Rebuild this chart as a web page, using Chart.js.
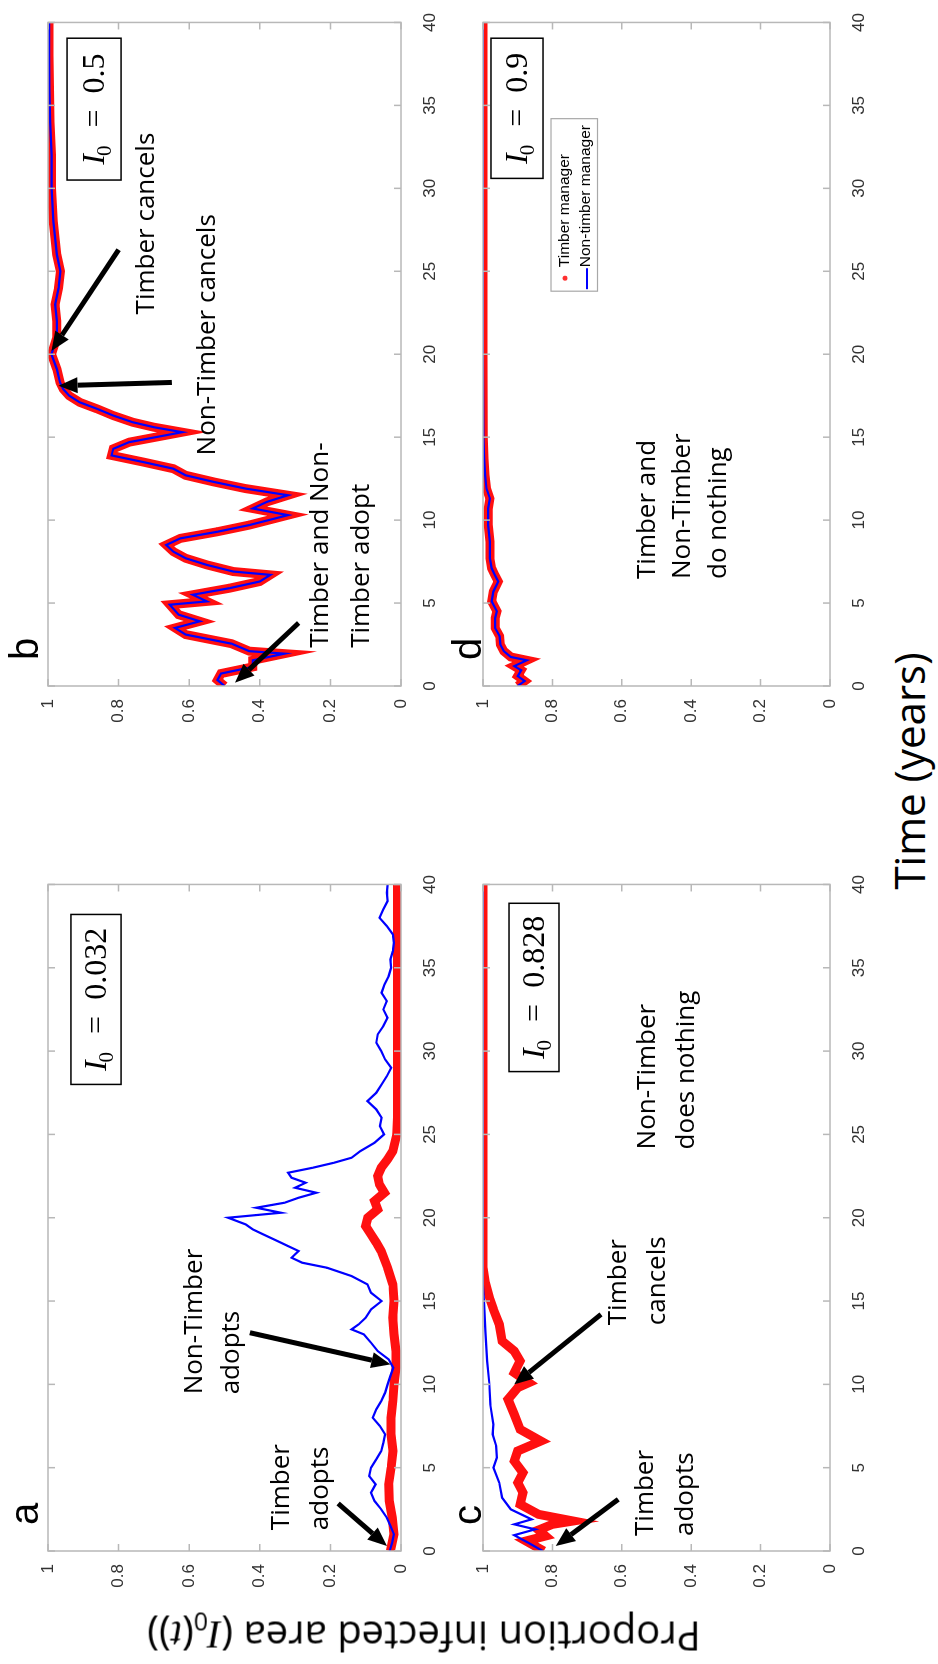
<!DOCTYPE html>
<html>
<head>
<meta charset="utf-8">
<script src="https://cdn.jsdelivr.net/npm/chart.js@4.4.0/dist/chart.umd.min.js"></script>
<style>
  html, body { margin: 0; padding: 0; background: #fff; }
  body { width: 938px; height: 1664px; overflow: hidden; position: relative; }
  /* the figure is laid out landscape, then turned a quarter turn counter-clockwise */
  #figure { position: absolute; left: 0; top: 0; width: 1664px; height: 938px;
            transform-origin: 0 0; transform: translateY(1664px) rotate(-90deg); }
  #figure canvas { position: absolute; }
  .title { position: absolute; font-family: "Open Sans", sans-serif; color: #000; white-space: nowrap; }
  .m { font-family: "Liberation Serif", serif; font-style: italic; }
  #ylab { left: 29px; top: 424px; font-size: 40px; transform: translate(-50%, -50%) rotate(-90deg); }
  #xlab { left: 893px; top: 908px; font-size: 42px; transform: translate(-50%, -50%); }
</style>
</head>
<body>
<div id="figure">
  <canvas id="chart-a" width="750" height="446" style="left:50px; top:0px;"></canvas>
  <canvas id="chart-b" width="747" height="446" style="left:915px; top:0px;"></canvas>
  <canvas id="chart-c" width="750" height="430" style="left:50px; top:446px;"></canvas>
  <canvas id="chart-d" width="747" height="430" style="left:915px; top:446px;"></canvas>
  <div class="title" id="ylab">Proportion infected area (<span class="m">I</span><sub style="font-size:25px">0</sub>(<span class="m">t</span>))</div>
  <div class="title" id="xlab">Time (years)</div>
</div>
<script>
// ========== DATA ========== //
const timeTicks = [0, 5, 10, 15, 20, 25, 30, 35, 40];
const valueTicks = [0, 0.2, 0.4, 0.6, 0.8, 1];

// panel a, I0 = 0.032
const aNonTimberTime = [0, 0.5, 1, 1.5, 2, 2.5, 3, 3.5, 4, 4.5, 5, 5.5, 6, 6.5, 7, 7.5, 8, 8.5, 9, 9.5, 10, 10.5, 11, 11.5, 12, 12.5, 13, 13.3, 13.6, 14, 14.5, 15, 15.5, 16, 16.5, 17, 17.3, 17.6, 18, 18.3, 18.6, 19, 19.3, 19.6, 20, 20.3, 20.6, 20.9, 21.2, 21.5, 21.8, 22.1, 22.4, 22.7, 23, 23.3, 23.6, 24, 24.5, 25, 25.5, 26, 26.5, 27, 27.5, 28, 28.5, 29, 29.5, 30, 30.5, 31, 31.5, 32, 32.5, 33, 33.5, 34, 34.5, 35, 35.5, 36, 36.5, 37, 37.5, 38, 38.5, 39, 39.5, 40];
const aNonTimber = [0.032, 0.025, 0.02, 0.03, 0.04, 0.056, 0.075, 0.085, 0.072, 0.09, 0.085, 0.07, 0.056, 0.05, 0.045, 0.06, 0.08, 0.07, 0.056, 0.045, 0.038, 0.03, 0.022, 0.035, 0.066, 0.085, 0.105, 0.14, 0.12, 0.1, 0.085, 0.055, 0.085, 0.095, 0.14, 0.21, 0.28, 0.31, 0.29, 0.32, 0.35, 0.39, 0.42, 0.44, 0.49, 0.34, 0.41, 0.33, 0.29, 0.24, 0.3, 0.27, 0.31, 0.32, 0.25, 0.19, 0.14, 0.115, 0.075, 0.048, 0.06, 0.055, 0.07, 0.095, 0.07, 0.055, 0.04, 0.028, 0.045, 0.056, 0.07, 0.066, 0.05, 0.038, 0.05, 0.04, 0.055, 0.047, 0.035, 0.028, 0.03, 0.023, 0.02, 0.023, 0.04, 0.061, 0.05, 0.038, 0.04, 0.038];
const aTimberTime = [0, 1, 2, 3, 4, 5, 6, 7, 8, 9, 10, 11, 12, 13, 14, 15, 16, 17, 18, 18.5, 19, 19.5, 20, 20.5, 21, 21.5, 22, 22.5, 23, 23.5, 24, 25, 26, 28, 30, 32, 34, 36, 38, 40];
const aTimber = [0.03, 0.02, 0.025, 0.033, 0.035, 0.028, 0.023, 0.028, 0.028, 0.023, 0.02, 0.014, 0.014, 0.02, 0.023, 0.02, 0.023, 0.038, 0.056, 0.07, 0.085, 0.1, 0.094, 0.066, 0.075, 0.047, 0.061, 0.066, 0.056, 0.038, 0.023, 0.012, 0.01, 0.01, 0.01, 0.01, 0.01, 0.01, 0.01, 0.01];

// panel b, I0 = 0.5 (both managers follow the same path)
const bTime = [0, 0.36, 0.75, 1.15, 1.55, 1.95, 2.1, 2.55, 3.1, 3.5, 3.9, 4.3, 4.9, 5.1, 5.5, 5.9, 6.3, 6.7, 6.9, 7.3, 7.7, 8.1, 8.5, 8.9, 9.3, 9.7, 10.3, 10.7, 11.1, 11.5, 11.9, 12.3, 12.7, 13.1, 13.5, 13.9, 14.3, 14.7, 14.9, 15.3, 15.6, 15.9, 16.3, 16.7, 17.1, 17.5, 17.9, 18.3, 19.1, 20, 21, 22, 23, 24, 25, 26, 27, 28, 30, 32, 34, 36, 38, 40];
const bValue = [0.5, 0.52, 0.51, 0.42, 0.42, 0.33, 0.43, 0.48, 0.61, 0.64, 0.57, 0.63, 0.655, 0.55, 0.59, 0.485, 0.4, 0.37, 0.475, 0.55, 0.61, 0.645, 0.665, 0.625, 0.52, 0.43, 0.32, 0.42, 0.38, 0.32, 0.44, 0.53, 0.61, 0.645, 0.73, 0.82, 0.815, 0.77, 0.72, 0.62, 0.7, 0.76, 0.815, 0.86, 0.91, 0.94, 0.957, 0.966, 0.975, 0.99, 0.975, 0.975, 0.98, 0.97, 0.965, 0.975, 0.98, 0.985, 0.99, 0.99, 0.994, 0.996, 0.997, 0.997];

// panel c, I0 = 0.828
const cNonTimberTime = [0, 0.5, 0.95, 1.3, 1.6, 1.9, 2.5, 3.2, 4.1, 5, 5.6, 6.3, 7, 7.6, 8.8, 10.1, 11.4, 13.2, 14.8, 16, 20, 30, 40];
const cNonTimber = [0.828, 0.87, 0.91, 0.85, 0.91, 0.86, 0.92, 0.945, 0.953, 0.97, 0.96, 0.962, 0.972, 0.97, 0.979, 0.982, 0.988, 0.993, 0.997, 1, 1, 1, 1];
const cTimberTime = [0, 0.6, 0.9, 1.26, 1.6, 1.8, 2.2, 2.8, 3.5, 4.1, 4.7, 5.4, 6, 6.6, 7.3, 8.2, 9.1, 9.8, 10.1, 10.7, 11.4, 12, 12.6, 13.6, 14.5, 15.1, 16.1, 17, 20, 30, 40];
const cTimber = [0.825, 0.876, 0.82, 0.84, 0.8, 0.74, 0.84, 0.893, 0.885, 0.9, 0.885, 0.91, 0.9, 0.833, 0.893, 0.91, 0.928, 0.9, 0.868, 0.91, 0.893, 0.91, 0.945, 0.953, 0.97, 0.98, 0.993, 1, 1, 1, 1];

// panel d, I0 = 0.9 (both managers follow the same path)
const dTime = [0, 0.3, 0.6, 0.95, 1.2, 1.55, 1.75, 2.1, 2.5, 3, 3.5, 4.1, 4.5, 5.1, 5.7, 6.3, 6.7, 7.1, 7.7, 8.7, 9.7, 10.7, 11.3, 11.9, 12.7, 13.7, 15, 20, 25, 30, 35, 40];
const dValue = [0.9, 0.88, 0.9, 0.89, 0.91, 0.874, 0.92, 0.94, 0.95, 0.952, 0.965, 0.965, 0.96, 0.975, 0.97, 0.956, 0.966, 0.975, 0.98, 0.98, 0.985, 0.985, 0.98, 0.99, 0.994, 0.997, 0.999, 1, 1, 1, 1, 1];

const seriesNames = ["Timber manager", "Non-timber manager"];

// ========== HELPERS ========== //
const toPoints = (ts, vs) => ts.map((t, i) => ({ x: t, y: vs[i] }));

function seriesPair(timberT, timberV, nonT, nonV) {
  return [
    { label: seriesNames[1], data: toPoints(nonT, nonV), borderColor: "#0000ff", borderWidth: 2.2, order: 0 },
    { label: seriesNames[0], data: toPoints(timberT, timberV), borderColor: "#ff1010", borderWidth: 9, order: 1 }
  ].map(ds => Object.assign(ds, { pointRadius: 0, tension: 0, fill: false }));
}

function drawArrow(ctx, x0, y0, x1, y1) {
  const ang = Math.atan2(y1 - y0, x1 - x0), head = 19, half = 8;
  const bx = x1 - head * Math.cos(ang), by = y1 - head * Math.sin(ang);
  ctx.lineWidth = 5;
  ctx.beginPath(); ctx.moveTo(x0, y0); ctx.lineTo(bx, by); ctx.stroke();
  ctx.beginPath();
  ctx.moveTo(x1, y1);
  ctx.lineTo(bx + half * Math.sin(ang), by - half * Math.cos(ang));
  ctx.lineTo(bx - half * Math.sin(ang), by + half * Math.cos(ang));
  ctx.closePath(); ctx.fill();
}

// box, inward ticks, panel letter, I0 box, notes, arrows, legend
const panelDecor = {
  id: "panelDecor",
  afterDatasetsDraw(chart, args, o) {
    const { ctx, chartArea: ca, scales: { x, y } } = chart;
    const px = t => x.getPixelForValue(t), py = v => y.getPixelForValue(v);
    ctx.save();

    ctx.strokeStyle = "#b8b8b8"; ctx.lineWidth = 1.5;
    ctx.strokeRect(ca.left, ca.top, ca.width, ca.height);
    ctx.beginPath();
    x.ticks.forEach(tk => {
      const p = px(tk.value);
      ctx.moveTo(p, ca.bottom); ctx.lineTo(p, ca.bottom - 7);
      ctx.moveTo(p, ca.top); ctx.lineTo(p, ca.top + 7);
    });
    y.ticks.forEach(tk => {
      const p = py(tk.value);
      ctx.moveTo(ca.left, p); ctx.lineTo(ca.left + 7, p);
      ctx.moveTo(ca.right, p); ctx.lineTo(ca.right - 7, p);
    });
    ctx.stroke();

    ctx.fillStyle = "#000"; ctx.strokeStyle = "#000";
    ctx.font = '40px "Liberation Sans"'; ctx.textAlign = "left"; ctx.textBaseline = "alphabetic";
    ctx.fillText(o.letter, ca.left + 26, ca.top - o.letterGap);

    // I0 box
    const bx0 = px(o.box.t[0]), bx1 = px(o.box.t[1]), by0 = py(o.box.v[0]), by1 = py(o.box.v[1]);
    ctx.lineWidth = 1.5;
    ctx.strokeRect(bx0, by0, bx1 - bx0, by1 - by0);
    const bigF = '32px "Liberation Serif"', smallF = '21px "Liberation Serif"', itF = 'italic 32px "Liberation Serif"';
    const rest = "  =  " + o.box.text;
    ctx.font = itF; const wI = ctx.measureText("I").width;
    ctx.font = smallF; const w0 = ctx.measureText("0").width;
    ctx.font = bigF; const wR = ctx.measureText(rest).width;
    let tx = (bx0 + bx1) / 2 - (wI + w0 + wR) / 2; const ty = (by0 + by1) / 2 + 10;
    ctx.font = itF; ctx.fillText("I", tx, ty); tx += wI;
    ctx.font = smallF; ctx.fillText("0", tx - 2, ty + 7); tx += w0;
    ctx.font = bigF; ctx.fillText(rest, tx, ty);

    // text notes
    ctx.font = '26px "Open Sans"'; ctx.textBaseline = "middle";
    o.notes.forEach(n => n.lines.forEach((s, i) => ctx.fillText(s, px(n.t), py(n.v[i]))));

    // arrows
    o.arrows.forEach(a => drawArrow(ctx, px(a.from[0]), py(a.from[1]), px(a.to[0]), py(a.to[1])));

    // legend
    if (o.legend) {
      const lx0 = px(o.legend.t[0]), lx1 = px(o.legend.t[1]), ly0 = py(o.legend.v[0]), ly1 = py(o.legend.v[1]);
      ctx.fillStyle = "#fff"; ctx.fillRect(lx0, ly0, lx1 - lx0, ly1 - ly0);
      ctx.strokeStyle = "#a8a8a8"; ctx.lineWidth = 1.2; ctx.strokeRect(lx0, ly0, lx1 - lx0, ly1 - ly0);
      ctx.font = '15.5px "Liberation Sans"'; ctx.fillStyle = "#000"; ctx.textBaseline = "middle";
      ctx.fillText(seriesNames[0], lx0 + 24, ly0 + 14);
      ctx.fillText(seriesNames[1], lx0 + 24, ly0 + 35);
      ctx.fillStyle = "#ff3030"; ctx.beginPath(); ctx.arc(lx0 + 13, ly0 + 14, 2.5, 0, Math.PI * 2); ctx.fill();
      ctx.strokeStyle = "#0000ff"; ctx.lineWidth = 2; ctx.beginPath();
      ctx.moveTo(lx0 + 2, ly0 + 36); ctx.lineTo(lx0 + 23, ly0 + 36); ctx.stroke();
    }
    ctx.restore();
  }
};

function createPanel(id, datasets, decor, padTop, axisH) {
  const tickFont = { family: "Liberation Sans", size: 17 };
  return new Chart(document.getElementById(id), {
    type: "line",
    data: { datasets },
    options: {
      responsive: false,
      animation: false,
      events: [],
      layout: { padding: { top: padTop, right: 14, left: 0, bottom: 0 } },
      scales: {
        x: {
          type: "linear", min: timeTicks[0], max: timeTicks[timeTicks.length - 1],
          afterBuildTicks: s => { s.ticks = timeTicks.map(v => ({ value: v })); },
          ticks: { padding: 11, font: tickFont, color: "#333", maxRotation: 0 },
          grid: { display: false }, border: { display: false },
          afterFit: s => { s.height = axisH; }
        },
        y: {
          type: "linear", min: valueTicks[0], max: valueTicks[valueTicks.length - 1],
          afterBuildTicks: s => { s.ticks = valueTicks.map(v => ({ value: v })); },
          ticks: { padding: 5, font: tickFont, color: "#333", callback: v => String(+v.toFixed(1)) },
          grid: { display: false }, border: { display: false },
          afterFit: s => { s.width = 63; }
        }
      },
      plugins: { legend: { display: false }, tooltip: { enabled: false }, panelDecor: decor }
    },
    plugins: [panelDecor]
  });
}

// ========== RENDER ========== //
createPanel("chart-a", seriesPair(aTimberTime, aTimber, aNonTimberTime, aNonTimber), {
  letter: "a", letterGap: 10,
  box: { t: [28.0, 38.2], v: [0.935, 0.793], text: "0.032" },
  notes: [
    { lines: ["Timber", "adopts"], t: 1.25, v: [0.337, 0.227] },
    { lines: ["Non-Timber", "adopts"], t: 9.4, v: [0.586, 0.479] }
  ],
  arrows: [
    { from: [2.85, 0.178], to: [0.3, 0.04] },
    { from: [13.1, 0.428], to: [11.2, 0.03] }
  ]
}, 48, 45);

createPanel("chart-b", seriesPair(bTime, bValue, bTime, bValue), {
  letter: "b", letterGap: 10,
  box: { t: [30.5, 39.05], v: [0.946, 0.793], text: "0.5" },
  notes: [
    { lines: ["Timber cancels"], t: 22.4, v: [0.72] },
    { lines: ["Non-Timber cancels"], t: 13.9, v: [0.547] },
    { lines: ["Timber and Non-", "Timber adopt"], t: 2.3, v: [0.227, 0.113] }
  ],
  arrows: [
    { from: [26.3, 0.8], to: [20.2, 0.99] },
    { from: [18.3, 0.649], to: [18.1, 0.97] },
    { from: [3.8, 0.29], to: [0.2, 0.47] }
  ]
}, 48, 45);

createPanel("chart-c", seriesPair(cTimberTime, cTimber, cNonTimberTime, cNonTimber), {
  letter: "c", letterGap: 2,
  box: { t: [28.77, 38.87], v: [0.925, 0.781], text: "0.828" },
  notes: [
    { lines: ["Non-Timber", "does nothing"], t: 24.1, v: [0.527, 0.412] },
    { lines: ["Timber", "cancels"], t: 13.55, v: [0.608, 0.496] },
    { lines: ["Timber", "adopts"], t: 0.9, v: [0.53, 0.415] }
  ],
  arrows: [
    { from: [14.2, 0.66], to: [10.0, 0.91] },
    { from: [3.1, 0.61], to: [0.3, 0.79] }
  ]
}, 37, 46);

createPanel("chart-d", seriesPair(dTime, dValue, dTime, dValue), {
  letter: "d", letterGap: 2,
  box: { t: [30.6, 39.05], v: [0.977, 0.827], text: "0.9" },
  notes: [
    { lines: ["Timber and", "Non-Timber", "do nothing"], t: 6.45, v: [0.527, 0.424, 0.32] }
  ],
  arrows: [],
  legend: { t: [23.8, 34.2], v: [0.804, 0.67] }
}, 37, 46);
</script>
</body>
</html>
